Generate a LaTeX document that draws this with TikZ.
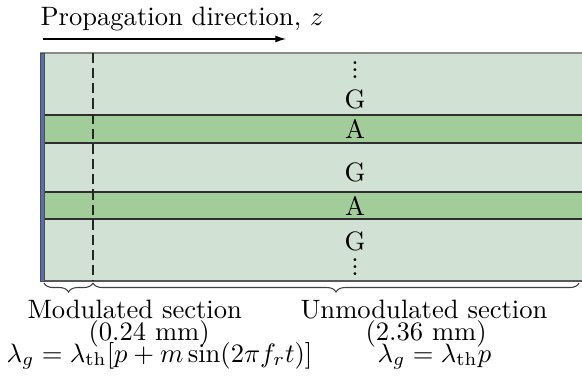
\documentclass[tikz,border=0pt]{standalone}
\usetikzlibrary{decorations.pathreplacing,arrows.meta}
\definecolor{gbg}{HTML}{D1E2D5}
\definecolor{gband}{HTML}{A2CD9A}
\definecolor{gblue}{HTML}{5A6DB0}
\definecolor{edgegray}{HTML}{8A8A8A}
\definecolor{edgedark}{HTML}{2E2E2E}
\newcommand{\tightvdots}{\vbox{\baselineskip=2.6pt\lineskiplimit=0pt\hbox{.}\hbox{.}\hbox{.}}}
\begin{document}
\begin{tikzpicture}[x=0.376pt,y=-0.376pt,
  lbl/.style={inner sep=0pt,anchor=base},
  txt/.style={inner sep=0pt,anchor=base west},
  bandline/.style={draw=edgedark,line width=0.45pt},
  bracestyle/.style={decorate,decoration={brace,amplitude=3.4pt,mirror},line width=0.4pt,draw=black!75}]
\useasboundingbox (0,0) rectangle (582,384);
% background
\fill[gbg] (40,53) rectangle (582,281);
\fill[gband] (40,115) rectangle (582,143);
\fill[gband] (40,192) rectangle (582,219);
% lines
\draw[edgegray,line width=0.6pt] (40,53) -- (582,53);
\draw[bandline] (40,115) -- (582,115);
\draw[bandline] (40,143) -- (582,143);
\draw[bandline] (40,192) -- (582,192);
\draw[bandline] (40,219) -- (582,219);
\draw[draw=edgedark!80,line width=0.5pt] (40,281) -- (582,281);
% blue facet
\filldraw[fill=gblue,draw=edgedark!85,line width=0.35pt] (40.5,53) rectangle (44.5,281);
% dashed boundary
\coordinate (dtop) at (93,53);
\coordinate (dbot) at (93,281);
\draw[dash pattern=on 3.8pt off 1.9pt,line width=0.45pt,black!85] (dtop) -- (dbot);
% braces
\coordinate (b0) at (44,283);
\coordinate (b1) at (93,283);
\coordinate (b2) at (579,283);
\draw[bracestyle] (b0) -- (b1);
\draw[bracestyle] (b1) -- (b2);
% propagation arrow
\node[txt] (title) at (40,25) {Propagation direction, $z$};
\coordinate (a0) at (43,39);
\coordinate (a1) at (286,39);
\draw[-{Latex[length=4pt,width=2.6pt]},line width=0.45pt] (a0) -- (a1);
% layer labels
\node[lbl] (d1) at (355,78) {\tightvdots};
\node[lbl] (g1) at (355,108) {G};
\node[lbl] (a1l) at (355,138) {A};
\node[lbl] (g2) at (355,181) {G};
\node[lbl] (a2l) at (355,215) {A};
\node[lbl] (g3) at (355,250) {G};
\node[lbl] (d2) at (355,275) {\tightvdots};
% section labels
\node[txt] (m1) at (27,318) {Modulated section};
\node[txt] (m2) at (88,340) {(0.24 mm)};
\node[txt] (m3) at (6,362) {$\lambda_g=\lambda_{\mathrm{th}}[p+m\sin(2\pi f_r t)]$};
\node[txt] (u1) at (300,318) {Unmodulated section};
\node[txt] (u2) at (365,340) {(2.36 mm)};
\node[txt] (u3) at (377,362) {$\lambda_g=\lambda_{\mathrm{th}}p$};
\end{tikzpicture}
\end{document}
